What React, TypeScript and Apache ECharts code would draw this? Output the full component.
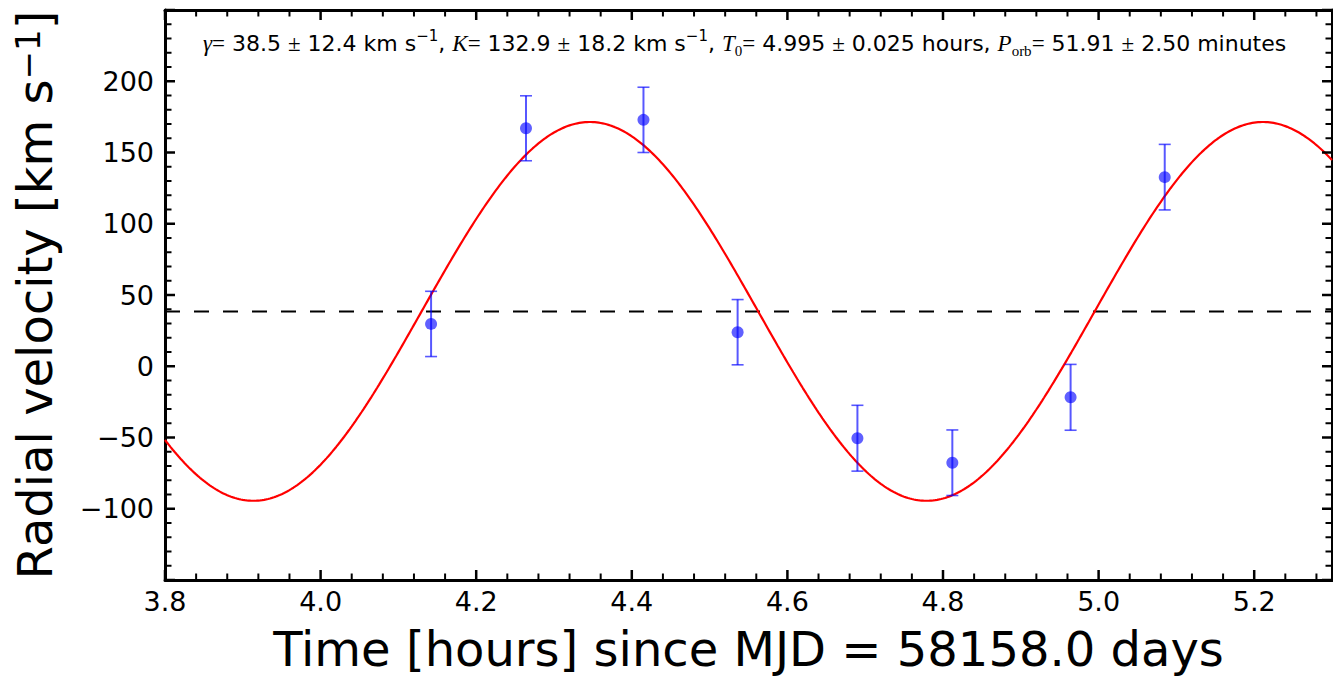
import React, { useEffect, useRef } from "react";
import * as echarts from "echarts";

// Observed radial velocities (time in hours since MJD 58158.0)
const obsTime = [4.142, 4.264, 4.415, 4.536, 4.69, 4.812, 4.964, 5.085];
const obsVel = [29.7, 167.0, 172.9, 23.9, -50.5, -67.7, -21.8, 132.7];
const obsErr = [22.9, 22.8, 22.9, 22.9, 23.1, 23.0, 23.1, 23.0];

// Fitted orbital parameters (from the plot annotation)
const fitGamma = 38.5; // km/s
const fitK = 132.9; // km/s
const fitT0 = 4.995; // hours
const fitPorbMin = 51.91; // minutes

// Axis ranges and tick steps
const xMin = 3.8;
const xMax = 5.3;
const xMajor = 0.2;
const xMinorDiv = 5;
const yMin = -150;
const yMax = 250;
const yMajor = 50;
const yMinorDiv = 5;

const SANS = "DejaVu Sans";
const SERIF = "Liberation Serif";

function modelCurve(): number[][] {
  const P = fitPorbMin / 60;
  const pts: number[][] = [];
  const n = 600;
  for (let i = 0; i <= n; i++) {
    const t = xMin + ((xMax - xMin) * i) / n;
    pts.push([t, fitGamma + fitK * Math.sin((2 * Math.PI * (t - fitT0)) / P)]);
  }
  return pts;
}

// tick positions [value, isMajor]
function tickList(min: number, max: number, major: number, div: number): number[][] {
  const out: number[][] = [];
  const step = major / div;
  const n = Math.floor((max - min) / step + 1e-6);
  for (let i = 0; i <= n; i++) {
    const v = +(min + i * step).toFixed(6);
    out.push([v, i % div === 0 ? 1 : 0]);
  }
  return out;
}

const MAJ = 10;
const MIN = 6.5;

export default function App() {
  const ref = useRef<HTMLDivElement>(null);

  useEffect(() => {
    if (!ref.current) return;
    const chart = echarts.init(ref.current, undefined, { renderer: "svg" });

    const obs = obsTime.map((t, i) => [t, obsVel[i], obsErr[i]]);
    const xt = tickList(xMin, xMax, xMajor, xMinorDiv);
    const yt = tickList(yMin, yMax, yMajor, yMinorDiv);
    const xMajorTicks = xt.filter((d) => d[1] === 1).map((d) => [d[0], 0]);
    const xMinorTicks = xt.filter((d) => d[1] === 0).map((d) => [d[0], 0]);
    const yMajorTicks = yt.filter((d) => d[1] === 1).map((d) => [xMin, d[0]]);
    const yMinorTicks = yt.filter((d) => d[1] === 0).map((d) => [xMin, d[0]]);

    const xTickSeries = (data: number[][], len: number, w: number) => ({
      type: "custom",
      data,
      encode: { x: 0, y: 1 },
      z: 10,
      renderItem: (p: any, api: any) => {
        const v = api.value(0);
        const b = api.coord([v, yMin]);
        const t = api.coord([v, yMax]);
        return {
          type: "group",
          children: [
            { type: "line", shape: { x1: b[0], y1: b[1], x2: b[0], y2: b[1] - len }, style: { stroke: "#000", lineWidth: w } },
            { type: "line", shape: { x1: t[0], y1: t[1], x2: t[0], y2: t[1] + len }, style: { stroke: "#000", lineWidth: w } },
          ],
        };
      },
    });
    const yTickSeries = (data: number[][], len: number, w: number) => ({
      type: "custom",
      data,
      encode: { x: 0, y: 1 },
      z: 10,
      renderItem: (p: any, api: any) => {
        const v = api.value(1);
        const l = api.coord([xMin, v]);
        const r = api.coord([xMax, v]);
        return {
          type: "group",
          children: [
            { type: "line", shape: { x1: l[0], y1: l[1], x2: l[0] + len, y2: l[1] }, style: { stroke: "#000", lineWidth: w } },
            { type: "line", shape: { x1: r[0], y1: r[1], x2: r[0] - len, y2: r[1] }, style: { stroke: "#000", lineWidth: w } },
          ],
        };
      },
    });

    const lineOn = () => ({ show: true, onZero: false, lineStyle: { color: "#000", width: 3 } });

    const option: any = {
      animation: false,
      title: {
        text:
          "{m|γ}{eq|=} 38.5 {eq|±} 12.4 km s{sup|−1}, {m|K}{eq|=} 132.9 {eq|±} 18.2 km s{sup|−1}, " +
          "{m|T}{sub|0}{eq|=} 4.995 {eq|±} 0.025 hours, {m|P}{sub|orb}{eq|=} 51.91 {eq|±} 2.50 minutes",
        left: 203,
        top: 28,
        padding: 0,
        textStyle: {
          fontFamily: SANS,
          fontSize: 22,
          fontWeight: "normal",
          color: "#000",
          lineHeight: 30,
          rich: {
            m: { fontFamily: SERIF, fontStyle: "italic", fontSize: 23, color: "#000", lineHeight: 30 },
            eq: { fontFamily: SERIF, fontSize: 23, color: "#000", lineHeight: 30 },
            sup: { fontFamily: SANS, fontSize: 15, color: "#000", lineHeight: 15, verticalAlign: "top" },
            sub: { fontFamily: SERIF, fontSize: 15, color: "#000", lineHeight: 15, verticalAlign: "bottom" },
          },
        },
      },
      grid: { left: 165, right: 1, top: 10, bottom: 96, containLabel: false, outerBoundsMode: "none" },
      xAxis: [
        {
          type: "value",
          position: "bottom",
          min: xMin,
          max: xMax,
          interval: xMajor,
          axisLine: lineOn(),
          axisTick: { show: false },
          splitLine: { show: false },
          axisLabel: {
            show: true,
            showMaxLabel: false,
            margin: 8,
            fontFamily: SANS,
            fontSize: 27,
            color: "#000",
            formatter: (v: number) => v.toFixed(1),
          },
          name: "Time [hours] since MJD = 58158.0 days",
          nameLocation: "middle",
          nameGap: 45,
          nameTextStyle: { fontFamily: SANS, fontSize: 48, lineHeight: 48, color: "#000" },
        },
        {
          type: "value",
          position: "top",
          min: xMin,
          max: xMax,
          interval: xMajor,
          axisLine: lineOn(),
          axisTick: { show: false },
          splitLine: { show: false },
          axisLabel: { show: false },
        },
      ],
      yAxis: [
        {
          type: "value",
          position: "left",
          min: yMin,
          max: yMax,
          interval: yMajor,
          axisLine: lineOn(),
          axisTick: { show: false },
          splitLine: { show: false },
          axisLabel: {
            show: true,
            showMinLabel: false,
            showMaxLabel: false,
            margin: 11,
            fontFamily: SANS,
            fontSize: 27,
            color: "#000",
            formatter: (v: number) => (v < 0 ? "\u2212" + Math.abs(v) : String(v)),
          },
          name: "Radial velocity [km s{sup|−1}]",
          nameLocation: "middle",
          nameGap: 106,
          nameTextStyle: {
            fontFamily: SANS,
            fontSize: 48,
            color: "#000",
            rich: {
              sup: { fontFamily: SANS, fontSize: 34, color: "#000", verticalAlign: "top", lineHeight: 34 },
            },
          },
        },
        {
          type: "value",
          position: "right",
          min: yMin,
          max: yMax,
          interval: yMajor,
          axisLine: lineOn(),
          axisTick: { show: false },
          splitLine: { show: false },
          axisLabel: { show: false },
        },
      ],
      series: [
        {
          type: "line",
          data: [
            [xMin, fitGamma],
            [xMax, fitGamma],
          ],
          symbol: "none",
          lineStyle: { color: "#000", width: 2, type: [15, 14] },
          z: 2,
        },
        {
          type: "line",
          data: modelCurve(),
          symbol: "none",
          smooth: false,
          lineStyle: { color: "#ff0000", width: 2.2 },
          z: 3,
        },
        {
          type: "custom",
          data: obs,
          encode: { x: 0, y: 1 },
          z: 4,
          renderItem: (params: any, api: any) => {
            const x = api.value(0);
            const y = api.value(1);
            const e = api.value(2);
            const top = api.coord([x, y + e]);
            const bot = api.coord([x, y - e]);
            const hw = 6;
            const style = { stroke: "rgba(0,0,255,0.66)", lineWidth: 2 };
            const capStyle = { stroke: "rgba(0,0,255,0.66)", lineWidth: 1.6 };
            return {
              type: "group",
              children: [
                { type: "line", shape: { x1: top[0], y1: top[1], x2: bot[0], y2: bot[1] }, style },
                { type: "line", shape: { x1: top[0] - hw, y1: top[1], x2: top[0] + hw, y2: top[1] }, style: capStyle },
                { type: "line", shape: { x1: bot[0] - hw, y1: bot[1], x2: bot[0] + hw, y2: bot[1] }, style: capStyle },
              ],
            };
          },
        },
        {
          type: "scatter",
          data: obs.map((d) => [d[0], d[1]]),
          symbol: "circle",
          symbolSize: 12,
          itemStyle: { color: "rgba(0,0,255,0.78)" },
          z: 5,
        },
        xTickSeries(xMajorTicks, MAJ, 2.5),
        xTickSeries(xMinorTicks, MIN, 2),
        yTickSeries(yMajorTicks, MAJ, 2.5),
        yTickSeries(yMinorTicks, MIN, 2),
      ],
    };

    chart.setOption(option);
    return () => chart.dispose();
  }, []);

  return <div ref={ref} style={{ position: "fixed", left: 0, top: 0, width: 1333, height: 676, background: "#fff" }} />;
}
